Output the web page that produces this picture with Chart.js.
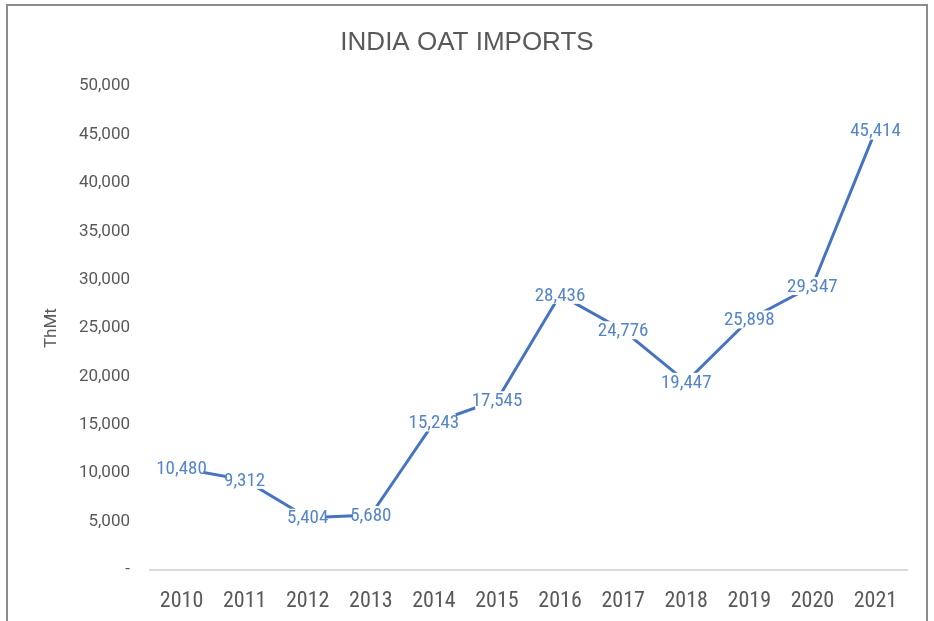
<!DOCTYPE html>
<html>
<head>
<meta charset="utf-8">
<script src="https://cdn.jsdelivr.net/npm/chart.js@4.4.1/dist/chart.umd.min.js"></script>
<style>
  html, body { margin: 0; padding: 0; background: #ffffff; }
  canvas { display: block; }
</style>
</head>
<body>
<canvas id="c" width="934" height="621"></canvas>
<script>
const years = ['2010','2011','2012','2013','2014','2015','2016','2017','2018','2019','2020','2021'];
const imports = [10480, 9312, 5404, 5680, 15243, 17545, 28436, 24776, 19447, 25898, 29347, 45414];
const yTicks = [0, 5000, 10000, 15000, 20000, 25000, 30000, 35000, 40000, 45000, 50000];

const NARROW = '"Liberation Sans Narrow", "Roboto Condensed", "DejaVu Sans Condensed", sans-serif';

const frame = {
  id: 'frame',
  beforeDraw(chart) {
    const ctx = chart.ctx;
    ctx.save();
    ctx.fillStyle = '#ffffff';
    ctx.fillRect(0, 0, chart.width, chart.height);
    ctx.strokeStyle = '#8c8c8c';
    ctx.lineWidth = 2;
    ctx.strokeRect(7, 5, 920, 660);
    ctx.restore();
  }
};

const labels = {
  id: 'labels',
  afterDatasetsDraw(chart) {
    const ctx = chart.ctx;
    const meta = chart.getDatasetMeta(0);
    const vals = chart.data.datasets[0].data;
    ctx.save();
    ctx.font = '19px ' + NARROW;
    ctx.textAlign = 'center';
    ctx.textBaseline = 'middle';
    meta.data.forEach((pt, i) => {
      const txt = vals[i].toLocaleString('en-US');
      const w = ctx.measureText(txt).width;
      const bw = w * 0.86;
      ctx.fillStyle = '#ffffff';
      ctx.fillRect(pt.x - bw / 2, pt.y - 9, bw, 18);
      ctx.fillStyle = '#5585C9';
      ctx.fillText(txt, pt.x, pt.y + 1);
    });
    ctx.restore();
  }
};

new Chart(document.getElementById('c'), {
  type: 'line',
  data: {
    labels: years,
    datasets: [{
      data: imports,
      borderColor: '#4674C1',
      borderWidth: 3,
      pointRadius: 0,
      tension: 0,
      fill: false
    }]
  },
  options: {
    responsive: false,
    animation: false,
    devicePixelRatio: 1,
    layout: { padding: { left: 0, right: 0, top: 0, bottom: 0 } },
    plugins: {
      legend: { display: false },
      tooltip: { enabled: false },
      title: {
        display: true,
        text: 'INDIA OAT IMPORTS',
        color: '#595959',
        font: { family: '"Liberation Sans", Arial, sans-serif', size: 26, weight: 'normal' },
        padding: { top: 27, bottom: 28 }
      }
    },
    scales: {
      x: {
        type: 'category',
        offset: true,
        grid: { display: false, drawTicks: false },
        border: { display: true, color: '#d9d9d9', width: 2 },
        ticks: {
          color: '#595959',
          font: { family: NARROW, size: 22 },
          padding: 18,
          maxRotation: 0,
          autoSkip: false
        },
        afterFit(scale) { scale.height = 51; }
      },
      y: {
        min: 0,
        max: 50000,
        afterBuildTicks(scale) { scale.ticks = yTicks.map(v => ({ value: v })); },
        grid: { display: false, drawTicks: false },
        border: { display: false },
        ticks: {
          color: '#595959',
          font: { family: 'Roboto, "Liberation Sans", sans-serif', size: 17 },
          padding: 20,
          callback: (v) => v === 0 ? '-' : Number(v).toLocaleString('en-US')
        },
        title: {
          display: true,
          text: 'ThMt',
          color: '#595959',
          font: { family: 'Roboto, "Liberation Sans", sans-serif', size: 17 },
          padding: { top: 42, bottom: 0 }
        },
        afterFit(scale) { scale.width = 150; }
      },
      yRight: {
        position: 'right',
        min: 0,
        max: 50000,
        grid: { display: false, drawTicks: false },
        border: { display: false },
        ticks: { display: false },
        afterFit(scale) { scale.width = 27; }
      }
    }
  },
  plugins: [frame, labels]
});
</script>
</body>
</html>
